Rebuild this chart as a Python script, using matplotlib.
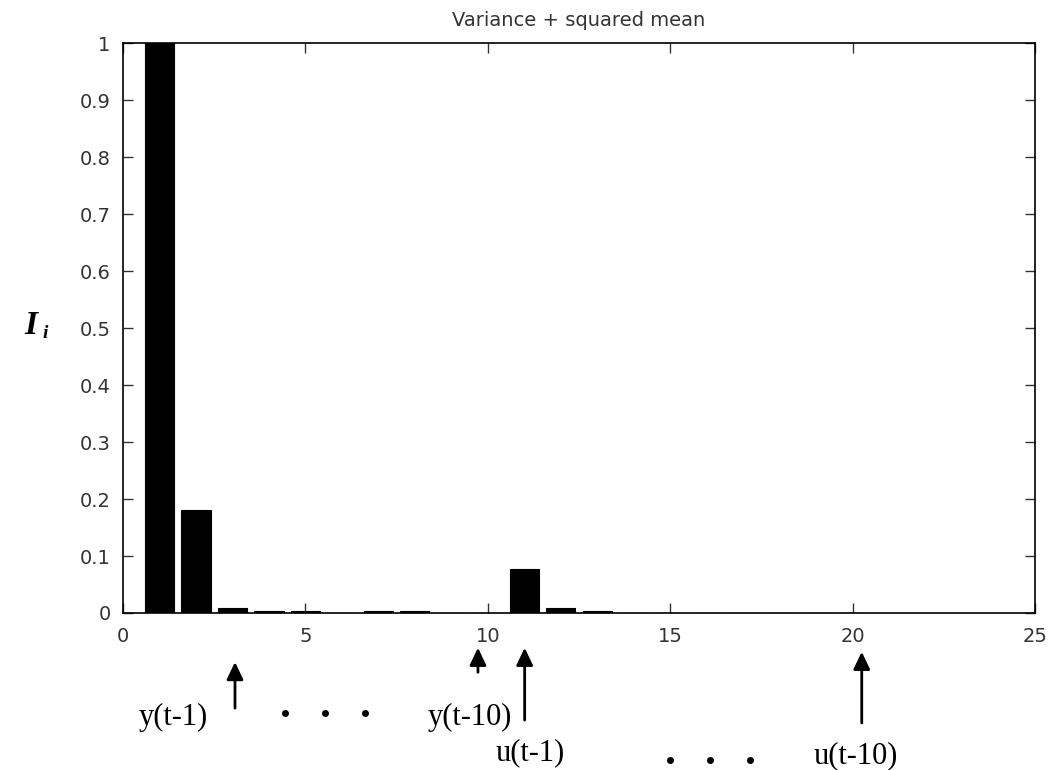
import matplotlib.pyplot as plt
import numpy as np

# relevance of each regressor: y(t-1..t-10), u(t-1..t-10)
lags = np.arange(1, 21)
relevance = [1.0, 0.18, 0.009, 0.003, 0.003, 0.0, 0.003, 0.003, 0.0, 0.0,
             0.078, 0.009, 0.003, 0.0, 0.0, 0.0, 0.0, 0.0, 0.0, 0.0]

xticks = [0, 5, 10, 15, 20, 25]
yticks = np.round(np.arange(0, 1.01, 0.1), 1)
ytick_labels = ['0'] + [f'{v:.1f}' for v in yticks[1:-1]] + ['1']

# regressor names and the lag each arrow points at
reg_names = ['y(t-1)', 'y(t-10)', 'u(t-1)', 'u(t-10)']
reg_arrow_x = [3.07, 9.73, 11.01, 20.25]

fig = plt.figure(figsize=(10.54, 7.7), dpi=100)
ax = fig.add_axes([0.1167, 0.2039, 0.8653, 0.7401])
ax.bar(lags, relevance, width=0.8, color='black', edgecolor='black', linewidth=0.8)

ax.set_xlim(0, 25)
ax.set_ylim(0, 1)
ax.set_xticks(xticks)
ax.set_yticks(yticks)
ax.set_yticklabels(ytick_labels)
ax.tick_params(direction='in', top=True, right=True, length=7, width=1,
               labelsize=14, colors='#333333')
ax.tick_params(axis='x', pad=10)
ax.tick_params(axis='y', pad=9)
for sp in ax.spines.values():
    sp.set_linewidth(1.2)
ax.set_title('Variance + squared mean', fontsize=14, pad=12, color='#333333')

# y-axis label I_i
serif = 'Liberation Serif'
fig.text(31 / 1054, 1 - 325 / 770, 'I', fontsize=24, family=serif,
         fontweight='bold', fontstyle='italic', ha='center', va='center')
fig.text(45 / 1054, 1 - 334 / 770, 'i', fontsize=14, family=serif,
         fontweight='bold', fontstyle='italic', ha='center', va='center')

# arrows under the axis
arrow_kw = dict(arrowstyle='-|>,head_length=1.05,head_width=0.5', color='black',
                lw=2, shrinkA=0, shrinkB=0)
arrow_spans = [(-0.086, -0.167), (-0.061, -0.104), (-0.061, -0.188), (-0.068, -0.193)]
for x, (tip, tail) in zip(reg_arrow_x, arrow_spans):
    ax.annotate('', xy=(x, tip), xytext=(x, tail), xycoords='data',
                arrowprops=arrow_kw, annotation_clip=False)

label_pos = [(1.37, -0.183), (9.51, -0.183), (11.15, -0.245), (20.08, -0.25)]
for txt, (x, y) in zip(reg_names, label_pos):
    ax.text(x, y, txt, fontsize=22, family=serif, ha='center', va='center',
            clip_on=False)

# ellipsis dots between the named regressors
ax.plot([4.44, 5.53, 6.63], [-0.176] * 3, 'o', color='black', markersize=4,
        clip_on=False)
ax.plot([14.99, 16.08, 17.18], [-0.258] * 3, 'o', color='black', markersize=4,
        clip_on=False)

fig.savefig('out.png', dpi=100)
